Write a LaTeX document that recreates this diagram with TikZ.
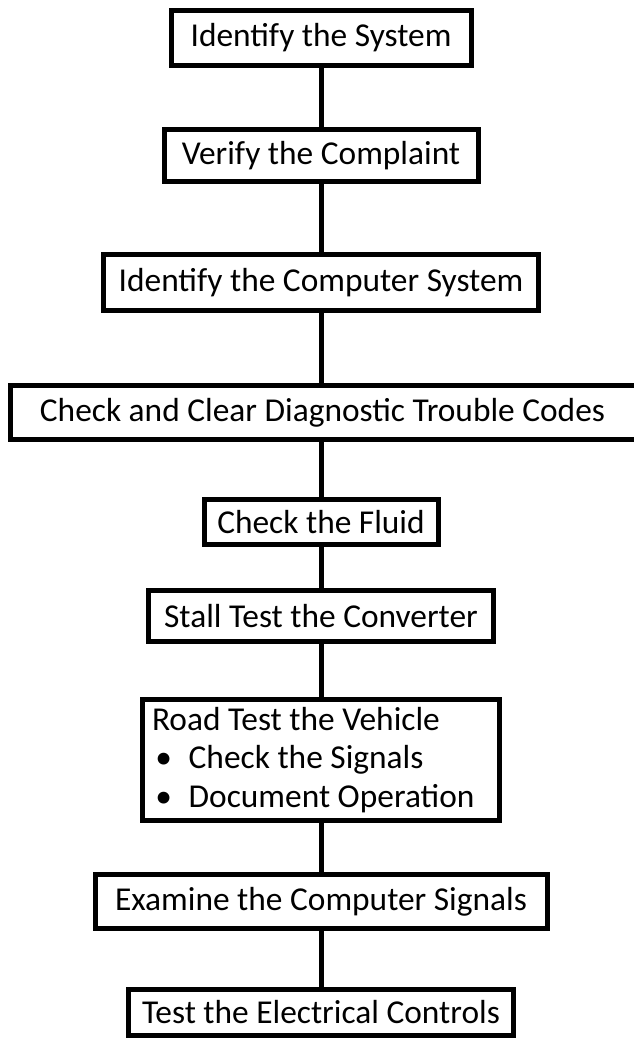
\documentclass[tikz,border=0pt]{standalone}
\usepackage{fontspec}
\setmainfont{Carlito}

\begin{document}
\begin{tikzpicture}[
	stage/.style={draw,line width=0.1cm,inner sep=0pt,font=\fontsize{19pt}{22pt}\selectfont},
	link/.style={line width=0.1cm}]

	\useasboundingbox (0,0) rectangle (12.66,-20.76);

	\node[stage,minimum width=6.0cm,minimum height=1.1cm] at (6.42,-0.76) (1) {Identify the System};
	\node[stage,minimum width=6.28cm,minimum height=1.04cm] at (6.42,-3.11) (2) {Verify the Complaint};
	\node[stage,minimum width=8.7cm,minimum height=1.12cm] at (6.42,-5.65) (3) {Identify the Computer System};
	\node[stage,minimum width=12.6cm,minimum height=1.08cm] at (6.51,-8.25) (4)
		{\hspace*{-0.12cm}Check and Clear Diagnostic Trouble Codes};
	\node[stage,minimum width=4.68cm,minimum height=0.9cm] at (6.42,-10.44) (5) {Check the Fluid};
	\node[stage,minimum width=6.9cm,minimum height=1.02cm] at (6.42,-12.32) (6) {Stall Test the Converter};
	\node[stage,text width=6.76cm,inner xsep=0.19cm,minimum height=2.42cm,align=flush left] at (6.42,-15.2) (7)
		{Road Test the Vehicle\\
		\hspace*{0.1em}\makebox[1.0em][l]{\textbullet}Check the Signals\\
		\hspace*{0.1em}\makebox[1.0em][l]{\textbullet}Document Operation};
	\node[stage,minimum width=9.04cm,minimum height=1.08cm] at (6.42,-18.03) (8) {Examine the Computer Signals};
	\node[stage,minimum width=7.7cm,minimum height=0.92cm] at (6.42,-20.25) (9) {Test the Electrical Controls};

	\draw[link] (1.south) to (2.north);
	\draw[link] (2.south) to (3.north);
	\draw[link] (3.south) to (3.south |- 4.north);
	\draw[link] (5.north |- 4.south) to (5.north);
	\draw[link] (5.south) to (6.north);
	\draw[link] (6.south) to (7.north);
	\draw[link] (7.south) to (8.north);
	\draw[link] (8.south) to (9.north);
\end{tikzpicture}
\end{document}
